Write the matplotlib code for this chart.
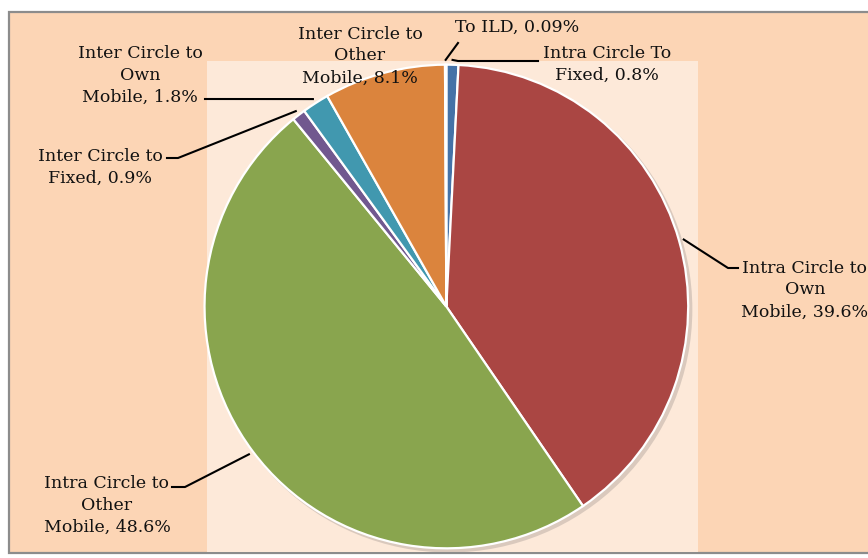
import numpy as np
import matplotlib.pyplot as plt
from matplotlib.patches import Rectangle, Circle
from matplotlib.transforms import IdentityTransform

# Parts de trafic (%) dans l'ordre des aiguilles d'une montre depuis midi
labels = ["Intra Circle To\nFixed, 0.8%",
          "Intra Circle to\nOwn\nMobile, 39.6%",
          "Intra Circle to\nOther\nMobile, 48.6%",
          "Inter Circle to\nFixed, 0.9%",
          "Inter Circle to\nOwn\nMobile, 1.8%",
          "Inter Circle to\nOther\nMobile, 8.1%",
          "To ILD, 0.09%"]
values = [0.8, 39.6, 48.6, 0.9, 1.8, 8.1, 0.09]
colors = ["#4572A7", "#AA4643", "#89A54E", "#71588F", "#4198AF", "#DB843D", "#93A9CF"]

W, H = 868, 558
fig = plt.figure(figsize=(W / 100, H / 100), dpi=100, facecolor="white")

def px(x, y):
    # pixel (origine en haut a gauche) -> fraction de figure
    return x / W, (H - y) / H

# cadre du graphique
x0, y0 = px(9, 553)
fig.patches.append(Rectangle((x0, y0), 1.2, px(0, 12)[1] - y0, transform=fig.transFigure,
                             facecolor="#FCD5B5", edgecolor="#8C8C8C", linewidth=1.6, zorder=-10))

# zone de tracé
left, top = px(207, 61)
right, bottom = px(698, 552)
ax = fig.add_axes([left, bottom, right - left, top - bottom])

cx, r = -0.025, 0.985
ax.add_patch(Circle((cx + 0.012, -0.012), r + 0.005, facecolor="#9a8f8a", alpha=0.35, zorder=0))
wedges, _ = ax.pie(values, colors=colors, startangle=90, counterclock=False,
                   center=(cx, 0), radius=r, normalize=True,
                   wedgeprops=dict(edgecolor="white", linewidth=1.6))
ax.set_frame_on(True)
ax.set_facecolor("#FDE9D9")
ax.set_xticks([])
ax.set_yticks([])
for s in ax.spines.values():
    s.set_visible(False)
ax.set_aspect("auto")
ax.set_xlim(-1, 1)
ax.set_ylim(-1, 1)

# positions des étiquettes (pixels) et coudes des lignes de rappel
text_pos = [(607, 64), (805, 290), (107, 505), (100, 167), (140, 75), (360, 56), (517, 27)]
elbows = [(458, 61), (728, 268), (185, 487), (178, 158), (205, 99), None, None]
ends = [(538, 61), (738, 268), (172, 487), (167, 158), (205, 99), None, (458, 43)]
show_line = [True, True, True, True, True, False, True]

fig.canvas.draw()
for i, w in enumerate(wedges):
    tx, ty = text_pos[i]
    fig.text(tx / W, (H - ty) / H, labels[i], ha="center", va="center",
             fontsize=12.5, family="DejaVu Serif", color="#111111", linespacing=1.38)
    if not show_line[i]:
        continue
    ang = np.deg2rad((w.theta1 + w.theta2) / 2)
    ax_pt = ax.transData.transform((cx + 1.02 * r * np.cos(ang), 1.02 * r * np.sin(ang)))
    pts = [tuple(ax_pt)]
    if elbows[i] is not None:
        pts.append((elbows[i][0], H - elbows[i][1]))
    pts.append((ends[i][0], H - ends[i][1]))
    xs, ys = zip(*pts)
    fig.add_artist(plt.Line2D(xs, ys, transform=IdentityTransform(), color="black", linewidth=1.5))

fig.savefig("out.png", dpi=100, facecolor=fig.get_facecolor())
